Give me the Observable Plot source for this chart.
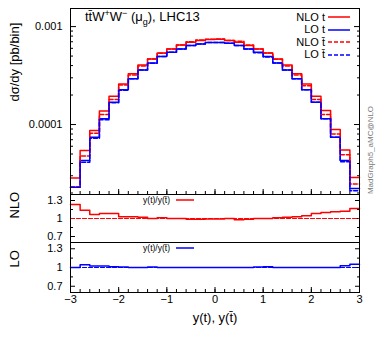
<!DOCTYPE html>
<html><head><meta charset="utf-8">
<script src="https://cdn.jsdelivr.net/npm/d3@7"></script>
<script src="https://cdn.jsdelivr.net/npm/@observablehq/plot@0.6"></script>
<style>
body{margin:0;background:#fff;font-family:"Liberation Sans",Arial,sans-serif;}
#chart{position:relative;width:382px;height:340px;overflow:hidden;background:#fff;}
#chart svg.pl{position:absolute;left:0;overflow:visible;}
.ov{position:absolute;white-space:nowrap;color:#000;font-family:"Liberation Sans",Arial,sans-serif;}
.ov sup,.ov sub{font-size:9px;line-height:0;}
</style></head><body><div id="chart"></div>
<script>
// ---- data ----
const binLow = [-3.0,-2.8,-2.6,-2.4,-2.2,-2.0,-1.8,-1.6,-1.4,-1.2,-1.0,-0.8,-0.6,-0.4,-0.2,0.0,0.2,0.4,0.6,0.8,1.0,1.2,1.4,1.6,1.8,2.0,2.2,2.4,2.6,2.8];
const binWidth = 0.2;
const nloT = [2.84e-5,5.43e-5,8.69e-5,1.374e-4,1.945e-4,2.60e-4,3.29e-4,4.06e-4,4.68e-4,5.39e-4,5.92e-4,6.50e-4,6.92e-4,7.20e-4,7.37e-4,7.42e-4,7.20e-4,6.92e-4,6.40e-4,5.92e-4,5.39e-4,4.68e-4,4.06e-4,3.29e-4,2.60e-4,1.945e-4,1.39e-4,8.89e-5,5.50e-5,2.88e-5];
const loT = [2.29e-5,4.29e-5,7.41e-5,1.143e-4,1.69e-4,2.26e-4,2.93e-4,3.61e-4,4.26e-4,4.94e-4,5.47e-4,5.92e-4,6.40e-4,6.66e-4,6.87e-4,6.87e-4,6.76e-4,6.40e-4,5.92e-4,5.47e-4,4.94e-4,4.26e-4,3.61e-4,2.93e-4,2.26e-4,1.69e-4,1.143e-4,7.41e-5,4.29e-5,2.22e-5];
const nloTbar = [2.30e-5,4.77e-5,8.14e-5,1.269e-4,1.796e-4,2.53e-4,3.20e-4,3.97e-4,4.68e-4,5.33e-4,5.92e-4,6.50e-4,7.00e-4,7.28e-4,7.44e-4,7.49e-4,7.20e-4,7.08e-4,6.47e-4,5.92e-4,5.39e-4,4.63e-4,3.97e-4,3.20e-4,2.49e-4,1.796e-4,1.264e-4,8.00e-5,4.90e-5,2.47e-5];
const loTbar = [2.29e-5,4.11e-5,7.25e-5,1.118e-4,1.673e-4,2.24e-4,2.93e-4,3.61e-4,4.22e-4,4.94e-4,5.47e-4,5.92e-4,6.40e-4,6.66e-4,6.87e-4,6.87e-4,6.76e-4,6.40e-4,5.92e-4,5.42e-4,4.89e-4,4.26e-4,3.61e-4,2.93e-4,2.26e-4,1.69e-4,1.143e-4,7.41e-5,4.17e-5,2.11e-5];
const xTicks = [-3,-2,-1,0,1,2,3];
const yTicksMain = [0.0001, 0.001];
const yMinorMain = [2e-5,3e-5,4e-5,5e-5,6e-5,7e-5,8e-5,9e-5,2e-4,3e-4,4e-4,5e-4,6e-4,7e-4,8e-4,9e-4];
const ratioTicks = [0.7, 1, 1.3];
const ratioMinor = [0.85, 1.15];
const seriesLabels = ["NLO t", "LO t", "NLO t\u0304", "LO t\u0304"];
const ratioLabel = "y(t)/y(t\u0304)";

// ---- helpers ----
const RED = "#ff0000", BLUE = "#0000ff";
const xEdges = binLow.concat([binLow[binLow.length-1] + binWidth]);
function steps(vals){
  const pts = binLow.map((x,i)=>({x, y: vals[i]}));
  pts.push({x: xEdges[xEdges.length-1], y: vals[vals.length-1]});
  return pts;
}
const fmtX = d => d < 0 ? "\u2212" + (-d) : String(d);
const W = 382, ML = 70, MR = 23;
const baseStyle = {fontFamily:'"Liberation Sans", Arial, sans-serif', fontSize:"11px", overflow:"visible", background:"none", color:"black"};
const chart = document.getElementById("chart");
function place(svg, top){ svg.classList.add("pl"); svg.style.top = top + "px"; chart.appendChild(svg); }

// ---- main panel ----
const main = Plot.plot({
  width: W, height: 196, marginLeft: ML, marginRight: MR, marginTop: 8, marginBottom: 2,
  x: {domain: [-3, 3]},
  y: {type: "log", domain: [1.93e-5, 1.53e-3]},
  style: baseStyle,
  marks: [
    Plot.axisY({anchor:"left", ticks: yTicksMain, tickFormat: d => String(d), tickSize: -6, tickPadding: 14, label: null}),
    Plot.axisY({anchor:"left", ticks: yMinorMain, tickSize: -3, fill: "none", label: null}),
    Plot.axisY({anchor:"right", ticks: yTicksMain, tickSize: -6, fill: "none", label: null}),
    Plot.axisY({anchor:"right", ticks: yMinorMain, tickSize: -3, fill: "none", label: null}),
    Plot.axisX({anchor:"bottom", ticks: xTicks, tickSize: -5, fill: "none", label: null}),
    Plot.axisX({anchor:"bottom", ticks: xEdges, tickSize: -3, fill: "none", label: null}),
    Plot.line(steps(nloT), {x:"x", y:"y", curve:"step-after", stroke: RED, strokeWidth: 1.5}),
    Plot.line(steps(loT), {x:"x", y:"y", curve:"step-after", stroke: BLUE, strokeWidth: 1.5}),
    Plot.line(steps(nloTbar), {x:"x", y:"y", curve:"step-after", stroke: RED, strokeWidth: 1.5, strokeDasharray: "4,2"}),
    Plot.line(steps(loTbar), {x:"x", y:"y", curve:"step-after", stroke: BLUE, strokeWidth: 1.5, strokeDasharray: "4,2"}),
    Plot.text(["d\u03c3/dy [pb/bin]"], {text: d => d, frameAnchor: "left", rotate: -90, dx: -56, fontSize: 13}),
    Plot.frame({stroke: "black", strokeWidth: 1})
  ]
});
place(main, 0);

// ---- ratio panels ----
function ratioPanel(num, den, color, name, height, marginBottom, withX){
  const ratio = steps(num.map((v,i)=> v/den[i]));
  const ref = steps(den.map((v,i)=> v/den[i]));
  const marks = [
    Plot.axisY({anchor:"left", ticks: ratioTicks, tickFormat: d => String(d), tickSize: -5, tickPadding: 13, label: null}),
    Plot.axisY({anchor:"left", ticks: ratioMinor, tickSize: -3, fill: "none", label: null}),
    Plot.axisY({anchor:"right", ticks: ratioTicks, tickSize: -5, fill: "none", label: null}),
    Plot.axisY({anchor:"right", ticks: ratioMinor, tickSize: -3, fill: "none", label: null}),
    Plot.line(ref, {x:"x", y:"y", curve:"step-after", stroke: color, strokeWidth: 1.2, strokeDasharray: "4,2"}),
    Plot.line(ratio, {x:"x", y:"y", curve:"step-after", stroke: color, strokeWidth: 1.5}),
    Plot.text([name], {text: d => d, frameAnchor: "left", rotate: -90, dx: -56, fontSize: 13}),
    Plot.frame({stroke: "black", strokeWidth: 1})
  ];
  if (withX) {
    marks.push(
      Plot.axisX({anchor:"bottom", ticks: xTicks, tickFormat: fmtX, tickSize: -5, tickPadding: 8, label: null}),
      Plot.axisX({anchor:"bottom", ticks: xEdges, tickSize: -3, fill: "none", label: null}),
      Plot.text(["y(t), y(t\u0304)"], {text: d => d, frameAnchor: "bottom", dy: 29, fontSize: 13})
    );
  }
  return Plot.plot({
    width: W, height, marginLeft: ML, marginRight: MR, marginTop: 1, marginBottom,
    x: withX ? {domain: [-3, 3]} : {domain: [-3, 3], axis: null},
    y: {domain: [0.6, 1.4]},
    style: baseStyle,
    marks
  });
}
place(ratioPanel(nloT, nloTbar, RED, "NLO", 51, 2, false), 193);
place(ratioPanel(loT, loTbar, BLUE, "LO", 99, 48, true), 241);

// ---- overlays: title, legend, watermark ----
function ov(html, css){ const d = document.createElement("div"); d.className = "ov"; d.innerHTML = html; Object.assign(d.style, css); chart.appendChild(d); return d; }
ov("tt\u0304W<sup>+</sup>W<sup>\u2212</sup> (\u03bc<sub>g</sub>), LHC13", {left:"85px", top:"9px", fontSize:"13px", lineHeight:"16px"});

const legendRows = [
  {label: seriesLabels[0], color: RED, dash: null},
  {label: seriesLabels[1], color: BLUE, dash: null},
  {label: seriesLabels[2], color: RED, dash: "4,2"},
  {label: seriesLabels[3], color: BLUE, dash: "4,2"}
];
const legY0 = 17, legStep = 12.5;
legendRows.forEach((r, i) => {
  const cy = legY0 + legStep * i;
  ov(r.label, {right: (382 - 325) + "px", top: (cy - 5.5) + "px", fontSize: "11px", lineHeight: "11px", textAlign: "right"});
  ov(`<svg width="22" height="4" style="display:block"><line x1="0" x2="22" y1="2" y2="2" stroke="${r.color}" stroke-width="1.5" ${r.dash ? `stroke-dasharray="${r.dash}"` : ""}/></svg>`, {left: "328px", top: (cy - 2) + "px"});
});
[[RED, 200], [BLUE, 248.3]].forEach(([c, cy]) => {
  ov(ratioLabel, {right: (382 - 170) + "px", top: (cy - 5) + "px", fontSize: "8.5px", lineHeight: "10px"});
  ov(`<svg width="18" height="4" style="display:block"><line x1="0" x2="18" y1="2" y2="2" stroke="${c}" stroke-width="1.5"/></svg>`, {left: "176px", top: (cy - 2) + "px"});
});
ov("MadGraph5_aMC@NLO", {left: "371px", top: "150px", fontSize: "8px", lineHeight: "10px", color: "#777", transform: "translate(-50%,-50%) rotate(-90deg)"});
</script></body></html>
